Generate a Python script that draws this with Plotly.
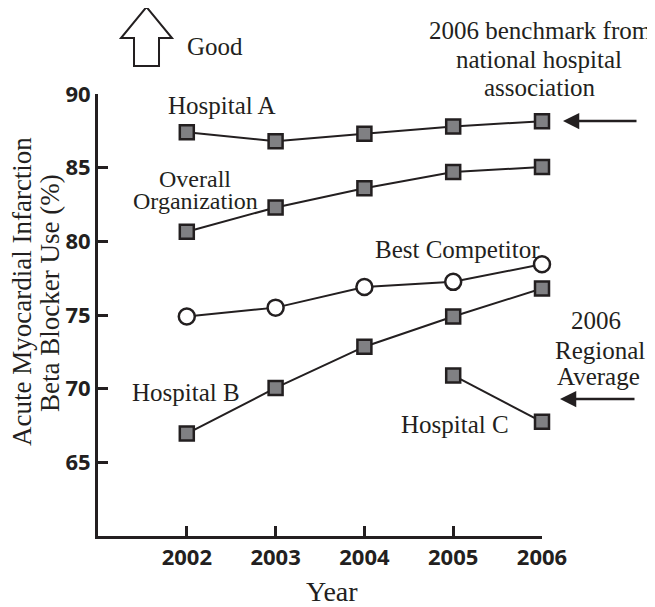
import plotly.graph_objects as go

years = [2002, 2003, 2004, 2005, 2006]
hospital_a = [87.4, 86.8, 87.3, 87.8, 88.15]
overall_org = [80.65, 82.3, 83.6, 84.7, 85.05]
best_competitor = [74.9, 75.5, 76.9, 77.25, 78.45]
hospital_b = [66.95, 70.05, 72.85, 74.9, 76.8]
hospital_c = [None, None, None, 70.9, 67.75]

y_ticks = [65, 70, 75, 80, 85, 90]
x_ticks = years

INK = "#231f20"
GRAY = "#808083"
SERIF = "Liberation Serif"
SANS = "Open Sans"

# page geometry (browser body has an 8px margin)
OFF = 8
W, H = 655, 607
L, R, T, B = 98, 113, 94, 71
pw, ph = W - L - R, H - T - B


def px(x):
    return (x - L) / pw


def py(y):
    return (H - B - y) / ph


fig = go.Figure()

square = dict(symbol="square", size=14, color=GRAY, line=dict(color=INK, width=2.5))
circle = dict(symbol="circle", size=16, color="white", line=dict(color=INK, width=2.5))
line_style = dict(color=INK, width=2)

for name, vals, mk in [
    ("Hospital A", hospital_a, square),
    ("Overall Organization", overall_org, square),
    ("Best Competitor", best_competitor, circle),
    ("Hospital B", hospital_b, square),
    ("Hospital C", hospital_c, square),
]:
    fig.add_trace(go.Scatter(x=years, y=vals, mode="lines+markers", name=name,
                             line=line_style, marker=mk, cliponaxis=False,
                             connectgaps=False))

annotations = []


def label(text, x, y, size=25, angle=0):
    annotations.append(dict(text=text, x=px(x), y=py(y), xref="paper", yref="paper",
                            xanchor="center", yanchor="middle", showarrow=False,
                            textangle=angle, font=dict(family=SERIF, size=size, color=INK)))


label("Good", 215, 47)
label("Hospital A", 222, 105)
label("Overall", 195, 179, size=24)
label("Organization", 195, 201, size=24)
label("Best Competitor", 457, 250)
label("Hospital B", 186, 392)
label("Hospital C", 455, 424)
label("2006 benchmark from", 540, 30)
label("national hospital", 539, 59)
label("association", 540, 87)
label("2006", 596, 320)
label("Regional", 600, 350)
label("Average", 598, 376)
label("Acute Myocardial Infarction", 22, 292, size=27, angle=-90)
label("Beta Blocker Use (%)", 50, 293, size=27, angle=-90)
label("Year", 332, 591, size=28)

# pointer arrows
for tip_x, tip_y, tail_x in [(563, 121, 638), (560, 399, 636)]:
    annotations.append(dict(text="", x=px(tip_x), y=py(tip_y), xref="paper", yref="paper",
                            ax=tail_x - tip_x, ay=0, showarrow=True, arrowhead=2,
                            arrowsize=1.3, arrowwidth=2.5, arrowcolor=INK))

# "Good" up-arrow outline
pts = [(146.5, 7), (121, 38), (134, 38), (134, 66), (159, 66), (159, 38), (172, 38)]
path = "M " + " L ".join(f"{px(a):.4f},{py(b):.4f}" for a, b in pts) + " Z"
shapes = [dict(type="path", path=path, xref="paper", yref="paper",
               line=dict(color=INK, width=2), fillcolor="white")]

tickfont = dict(family=SANS, size=22, color=INK, weight="bold")

fig.update_layout(
    width=W - OFF, height=H - OFF,
    margin=dict(l=L - OFF, r=R, t=T - OFF, b=B, pad=0),
    plot_bgcolor="white", paper_bgcolor="white",
    showlegend=False,
    annotations=annotations,
    shapes=shapes,
    xaxis=dict(range=[2001, 2006], tickvals=x_ticks, ticktext=[str(v) for v in x_ticks],
               showgrid=False, zeroline=False, showline=True, linewidth=3, linecolor=INK,
               ticks="inside", ticklen=10, tickwidth=2.5, tickcolor=INK,
               tickfont=tickfont),
    yaxis=dict(range=[60, 90], tickvals=y_ticks, ticktext=[str(v) for v in y_ticks],
               showgrid=False, zeroline=False, showline=True, linewidth=3, linecolor=INK,
               ticks="inside", ticklen=10, tickwidth=2.5, tickcolor=INK,
               tickfont=tickfont),
)

fig.write_html("out.html")
